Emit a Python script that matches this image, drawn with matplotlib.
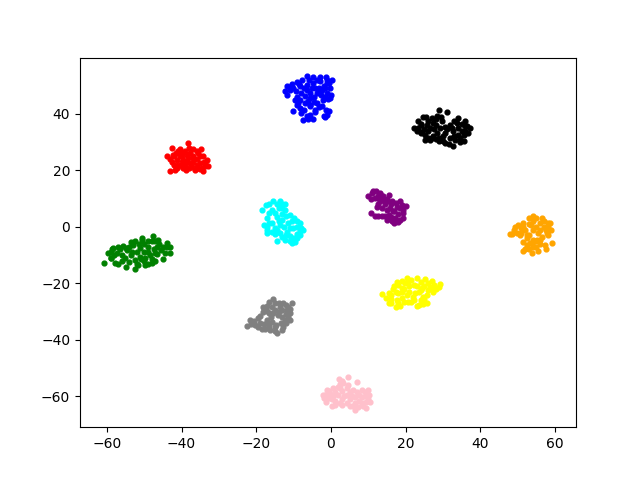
import matplotlib
matplotlib.use('Agg')
import matplotlib.pyplot as plt

# values, one x/y pair of lists per cluster
blue_x = [-6.5, -4.7, -2.9, -1.3, 0.2, -7.7, -9.2, -10.5, -11.9, -12.3, -11.7, -10.1, -8.3, -6.5, -4.7, -2.9, -1.2, -0.3, -0.1, -0.7, -2.2, -3.8, -5.6, -7.0, -2.5, -4.3, -6.1, -9.6, -8.3, -9.2, -5.6, -3.8, -2.5, -8.3, -10.3, -7.9, -6.5, -7.6, -4.7, -4.3, -2.0, -1.2, -0.5, -1.3,
          -11.0, -9.5, -8.0, -6.5, -5.0, -3.2, -1.5, -1.0, -2.8, -1.5, -4.5, -5.5, -4.5, -5.5, -3.2, -1.2, -3.8, -5.8, -8.5, -11.0, -7.0, -7.2, -8.8, -6.2, -5.5, -1.5, -0.2, -4.2, -9.2, -7.2, -3.0, -0.5, -2.0]
blue_y = [53.5, 53.0, 53.0, 53.0, 52.1, 51.9, 51.2, 50.7, 49.7, 48.0, 46.8, 49.2, 49.7, 50.3, 50.9, 51.5, 50.9, 49.2, 46.8, 45.3, 45.0, 47.4, 47.4, 46.4, 48.6, 49.2, 44.4, 44.8, 45.0, 43.2, 42.7, 43.8, 42.7, 42.1, 41.0, 40.3, 39.1, 37.9, 38.2, 40.5, 39.1, 39.7, 40.9, 41.5,
          48.5, 48.0, 47.5, 48.5, 49.0, 49.0, 49.0, 47.5, 46.5, 46.0, 46.0, 45.5, 44.2, 43.0, 42.5, 52.0, 52.0, 52.0, 50.5, 49.5, 44.0, 41.5, 43.8, 38.0, 39.5, 38.8, 45.5, 41.5, 46.0, 49.0, 47.6, 51.0, 50.0]

red_x = [-38.2, -42.7, -40.5, -36.9, -34.9, -43.9, -42.2, -40.0, -37.8, -35.5, -34.2, -33.3, -32.9, -34.2, -36.0, -37.8, -39.6, -41.3, -42.7, -41.3, -40.0, -38.7, -43.1, -36.9, -35.1, -40.5, -38.2, -37.3, -33.8,
         -43.0, -41.5, -39.0, -38.0, -36.0, -35.0, -34.0, -34.5, -36.0, -37.0, -38.5, -39.0, -41.0, -42.0, -40.0, -37.0, -36.0, -35.0, -33.8, -39.5, -42.0, -38.0, -41.0, -36.5, -40.0, -38.5, -41.8]
red_y = [29.6, 27.9, 27.5, 27.5, 27.5, 25.2, 25.5, 26.1, 26.1, 26.1, 24.9, 23.7, 21.4, 19.6, 20.8, 22.6, 23.7, 23.7, 23.1, 20.8, 21.6, 20.2, 19.6, 24.3, 22.6, 24.9, 24.3, 21.1, 21.4,
         24.0, 26.0, 27.0, 28.0, 27.0, 25.0, 23.0, 21.0, 22.0, 23.0, 25.5, 22.0, 22.0, 25.0, 25.0, 25.0, 24.0, 20.5, 22.5, 20.8, 22.0, 21.0, 27.0, 20.2, 23.0, 23.0, 20.2]

black_x = [28.8, 31.0, 24.7, 28.3, 34.1, 35.9, 23.4, 22.1, 23.4, 25.6, 27.4, 29.6, 31.9, 33.7, 37.2, 36.8, 35.5, 32.8, 30.5, 28.8, 26.5, 25.2, 24.0, 26.1, 28.3, 30.5, 32.8, 35.0, 34.6, 31.9, 29.2, 25.2, 27.4, 35.9, 33.2,
           24.0, 25.0, 26.5, 27.5, 28.0, 30.5, 31.0, 32.5, 34.0, 35.0, 36.0, 35.5, 34.0, 33.0, 30.0, 29.0, 28.0, 27.0, 26.0, 24.5, 23.0, 26.0, 28.0, 24.0, 33.0, 30.0, 31.5, 34.5, 36.5, 29.5, 27.0, 25.5]
black_y = [41.3, 40.6, 38.9, 39.1, 38.6, 37.4, 37.4, 35.0, 35.0, 36.2, 36.8, 37.4, 36.2, 36.8, 35.0, 33.2, 30.3, 28.7, 29.7, 30.3, 30.6, 30.9, 33.2, 33.8, 33.2, 33.2, 33.8, 33.8, 31.5, 31.5, 35.0, 32.6, 32.1, 35.6, 30.9,
           36.0, 34.5, 35.0, 34.5, 36.0, 35.5, 34.5, 35.0, 35.0, 36.5, 34.0, 32.5, 32.5, 32.0, 32.0, 31.5, 31.0, 31.5, 31.5, 33.7, 34.0, 37.5, 38.0, 36.5, 37.5, 30.5, 29.5, 30.0, 35.7, 39.0, 38.5, 39.0]

purple_x = [11.3, 10.0, 13.1, 15.4, 11.8, 14.0, 16.3, 18.5, 20.1, 17.6, 12.2, 10.6, 11.8, 13.6, 15.4, 16.7, 19.4, 19.4, 18.0, 16.3, 14.9, 13.6, 15.8, 18.5, 17.1, 12.7,
            11.0, 12.5, 14.0, 13.0, 15.0, 12.0, 10.8, 12.5, 14.5, 16.0, 17.5, 19.0, 15.0, 17.0, 18.0, 16.0, 17.5, 14.5, 19.3, 12.5, 13.2, 15.0, 17.0, 18.5]
purple_y = [12.8, 11.0, 12.0, 11.4, 10.2, 9.6, 9.0, 9.0, 7.5, 7.0, 7.2, 4.9, 3.7, 3.7, 4.3, 5.5, 4.9, 3.1, 1.6, 1.9, 2.5, 6.6, 6.6, 6.6, 3.1, 10.2,
            12.0, 11.0, 11.0, 9.0, 10.0, 12.8, 10.0, 8.2, 8.0, 8.0, 8.5, 7.8, 6.0, 5.5, 4.5, 3.5, 2.5, 4.0, 6.0, 4.0, 11.8, 9.0, 1.5, 2.5]

orange_x = [54.0, 51.5, 49.3, 56.4, 58.7, 47.9, 51.5, 51.5, 53.8, 55.5, 57.6, 59.1, 57.3, 53.3, 55.1, 52.4, 49.7, 57.8, 53.0, 55.0, 57.0, 59.0, 51.0, 53.0, 55.5, 54.0, 52.5, 56.0, 49.0,
            50.0, 51.5, 53.0, 55.0, 57.0, 58.0, 56.0, 54.0, 52.0, 54.0, 56.0, 58.0, 50.5, 52.5, 54.0, 56.5, 53.0, 55.0, 52.0, 54.0, 56.0, 57.5, 55.0, 51.0, 48.5, 53.5, 58.0, 52.5]
orange_y = [3.9, 1.5, 0.1, 3.1, 1.3, -2.6, -5.2, -8.7, -9.3, -8.4, -7.9, -5.8, -6.4, -5.8, -4.6, -2.8, -2.2, -2.2, 1.0, 0.0, 0.0, -1.0, -0.5, -3.0, -2.0, -7.0, -6.5, -6.0, -1.0,
            0.5, 0.0, 3.0, 3.0, 2.0, 0.0, 1.5, 2.0, -1.0, -1.0, -1.0, -3.0, -3.0, -4.0, -4.5, -3.5, -8.0, -7.0, -8.0, -5.5, -4.5, -1.0, -5.0, -2.0, -2.5, 0.5, 1.5, -7.5]

green_x = [-47.6, -50.5, -52.5, -44.0, -43.1, -43.1, -45.1, -46.3, -55.6, -58.3, -59.6, -60.8, -58.8, -57.4, -57.0, -54.9, -52.5, -49.8, -48.0, -47.1, -48.9, -51.2, -53.4, -54.7, -51.2, -49.8, -52.5, -51.6, -55.2, -45.4, -48.5, -57.9, -52.9, -46.7,
           -59.0, -58.0, -56.5, -55.0, -54.0, -56.0, -56.0, -54.0, -53.5, -52.0, -50.0, -49.0, -50.0, -49.0, -48.0, -47.0, -46.0, -45.0, -44.0, -47.5, -50.0, -48.0, -52.0, -50.5, -46.5, -44.5, -51.5, -53.5, -59.0, -49.0, -47.0, -51.0, -58.5, -57.0]
green_y = [-3.1, -3.8, -4.9, -5.8, -7.2, -9.4, -11.5, -4.6, -6.8, -7.6, -9.4, -12.9, -11.1, -9.4, -13.1, -14.1, -14.9, -13.5, -12.9, -9.4, -7.0, -7.6, -8.8, -8.2, -10.5, -11.1, -11.7, -13.5, -11.1, -8.2, -10.0, -12.9, -6.4, -7.0,
           -9.0, -10.0, -8.0, -7.5, -7.0, -10.0, -12.0, -12.5, -10.0, -9.0, -9.0, -9.0, -6.0, -5.0, -5.0, -5.0, -6.0, -7.0, -7.0, -8.0, -12.0, -11.5, -13.0, -4.5, -9.5, -9.3, -6.0, -5.5, -11.0, -13.0, -12.0, -11.5, -8.0, -7.0]

cyan_x = [-15.6, -13.7, -12.3, -17.4, -18.6, -15.9, -13.2, -12.3, -11.0, -8.3, -7.4, -8.3, -9.6, -10.5, -12.3, -14.4, -13.7, -17.2, -17.9, -15.9, -17.2, -14.5, -13.2, -11.4, -10.1, -11.9, -15.0, -11.0, -13.7, -9.2, -15.9,
          -16.5, -14.5, -13.0, -16.5, -15.0, -14.0, -13.0, -17.0, -16.5, -14.0, -12.5, -11.0, -9.0, -8.0, -10.0, -9.0, -10.0, -11.0, -13.0, -12.0, -8.2, -10.5, -15.0, -17.0, -12.0, -14.5, -9.0]
cyan_y = [9.3, 9.0, 8.1, 7.8, 6.0, 6.0, 6.6, 5.8, 4.2, 1.3, -1.1, -2.9, -5.2, -5.8, -4.6, -4.9, -2.3, -2.0, 0.7, 1.3, 3.1, 3.6, 2.5, 1.3, -0.5, -1.7, -0.5, -3.4, 0.7, 1.9, -1.7,
          8.0, 8.0, 8.0, 5.0, 5.0, 6.5, 4.5, 0.0, 1.5, 2.0, 0.0, -0.5, 0.0, -0.5, 3.0, -2.5, -4.0, -5.0, -3.5, -3.0, -1.5, 2.0, -2.5, -1.0, 4.0, -1.0, -4.0]

gray_x = [-15.6, -18.1, -15.9, -12.8, -10.5, -11.9, -18.1, -11.0, -11.0, -12.8, -14.4, -16.3, -17.7, -19.0, -21.7, -22.4, -20.4, -19.5, -15.9, -14.1, -12.3, -14.6, -17.2, -13.7, -15.5,
          -15.0, -17.0, -18.0, -14.0, -12.0, -11.5, -13.0, -15.0, -17.0, -12.0, -13.0, -11.5, -13.5, -15.0, -16.5, -18.0, -19.0, -20.5, -21.5, -19.5, -18.5, -15.0, -13.0, -12.0, -17.0, -16.5, -14.0, -16.0, -11.0, -16.5]
gray_y = [-25.7, -28.3, -28.3, -27.1, -27.1, -29.5, -30.0, -30.6, -33.0, -35.4, -37.5, -36.5, -36.0, -31.6, -33.0, -35.0, -34.8, -32.4, -33.6, -31.2, -33.0, -34.8, -34.2, -28.3, -30.6,
          -27.0, -28.0, -29.0, -27.0, -27.5, -28.5, -29.5, -29.5, -29.8, -31.0, -32.0, -32.0, -34.0, -35.5, -35.0, -34.5, -34.0, -33.2, -34.5, -35.5, -36.0, -37.0, -36.5, -34.0, -33.0, -30.5, -30.0, -32.0, -29.0, -26.5]

yellow_x = [20.3, 23.0, 25.2, 27.0, 29.2, 29.0, 27.4, 17.8, 16.5, 13.7, 14.7, 15.5, 17.4, 18.5, 23.0, 24.7, 25.6, 25.8, 24.3, 22.1, 19.8, 18.0, 20.3, 22.5, 24.7, 20.7, 17.6, 22.1, 18.9, 26.5, 16.2,
            19.0, 21.5, 24.0, 26.0, 27.5, 28.0, 26.0, 23.0, 21.0, 19.0, 17.0, 15.5, 16.0, 18.0, 19.5, 21.5, 24.0, 25.0, 23.5, 21.0, 19.5, 17.5, 16.0, 20.5, 25.0, 22.0, 19.0, 24.0, 18.0, 23.5, 27.0]
yellow_y = [-18.0, -18.2, -18.6, -19.0, -20.2, -21.4, -22.9, -19.4, -22.1, -23.9, -25.3, -27.1, -28.5, -28.0, -27.9, -27.3, -27.1, -24.1, -21.7, -20.6, -20.0, -23.5, -24.1, -23.5, -24.7, -26.5, -25.9, -25.9, -21.7, -21.2, -24.1,
            -19.0, -18.7, -19.5, -20.0, -20.5, -22.0, -22.5, -21.0, -21.0, -23.0, -21.0, -23.5, -25.5, -27.0, -26.5, -26.5, -26.0, -25.5, -23.0, -23.0, -22.0, -23.0, -27.0, -19.5, -21.0, -24.8, -25.0, -22.3, -20.5, -27.7, -21.5]

pink_x = [4.6, 2.2, 6.9, 3.3, 2.0, -2.2, -1.2, 0.6, 4.2, 6.0, 8.2, 10.0, 10.3, 10.4, 9.4, 6.3, 4.2, 2.4, 0.4, -1.4, 0.2, -0.3, 2.0, 4.2, 6.4, 8.2, 8.2, 6.4, 7.3,
          3.0, 2.5, 4.5, -0.5, 1.0, 3.0, 5.0, 7.0, 9.0, 9.5, 9.5, 7.5, 5.0, 3.0, 1.0, -0.5, -1.5, 1.0, 3.0, 5.0, 6.0, 8.5, 10.0, 2.5, 5.5, 7.5, -2.0, 0.5, 3.5]
pink_y = [-53.3, -53.7, -54.8, -55.4, -56.6, -59.6, -57.6, -57.2, -57.2, -57.6, -57.6, -57.6, -59.6, -62.0, -64.0, -64.7, -62.5, -62.5, -63.5, -62.0, -60.8, -59.0, -59.6, -59.6, -60.2, -60.2, -62.5, -62.5, -63.7,
          -54.5, -55.5, -56.0, -58.0, -58.5, -58.0, -58.5, -58.5, -58.5, -60.0, -62.0, -61.5, -61.0, -61.0, -61.5, -60.5, -59.5, -63.0, -63.0, -63.5, -63.5, -63.5, -60.8, -57.0, -60.0, -59.5, -60.5, -59.8, -60.0]

plt.figure(figsize=(6.4, 4.8), dpi=100)

# one scatter call per cluster
plt.scatter(blue_x, blue_y, s=12, c='blue')
plt.scatter(red_x, red_y, s=12, c='red')
plt.scatter(black_x, black_y, s=12, c='black')
plt.scatter(purple_x, purple_y, s=12, c='purple')
plt.scatter(orange_x, orange_y, s=12, c='orange')
plt.scatter(green_x, green_y, s=12, c='green')
plt.scatter(cyan_x, cyan_y, s=12, c='cyan')
plt.scatter(gray_x, gray_y, s=12, c='gray')
plt.scatter(yellow_x, yellow_y, s=12, c='yellow')
plt.scatter(pink_x, pink_y, s=12, c='pink')

plt.xlim(-67.2, 65.6)
plt.ylim(-70.9, 59.9)

plt.savefig('out.png', dpi=100)
plt.close()
